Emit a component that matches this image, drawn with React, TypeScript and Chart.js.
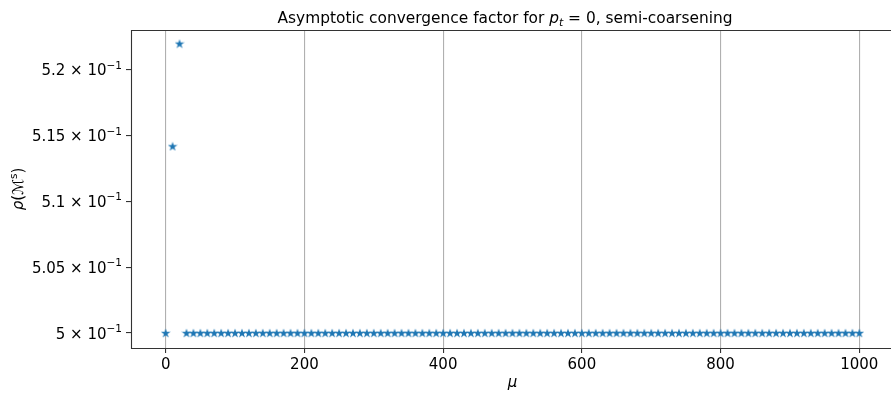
import React, { useEffect, useRef } from "react";
import { Chart, registerables } from "chart.js";

Chart.register(...registerables);

const muValues = [
  0, 10, 20, 30, 40, 50, 60, 70, 80, 90,
  100, 110, 120, 130, 140, 150, 160, 170, 180, 190,
  200, 210, 220, 230, 240, 250, 260, 270, 280, 290,
  300, 310, 320, 330, 340, 350, 360, 370, 380, 390,
  400, 410, 420, 430, 440, 450, 460, 470, 480, 490,
  500, 510, 520, 530, 540, 550, 560, 570, 580, 590,
  600, 610, 620, 630, 640, 650, 660, 670, 680, 690,
  700, 710, 720, 730, 740, 750, 760, 770, 780, 790,
  800, 810, 820, 830, 840, 850, 860, 870, 880, 890,
  900, 910, 920, 930, 940, 950, 960, 970, 980, 990,
  1000,
];

const rhoValues = [
  0.5, 0.5142, 0.522, 0.5, 0.5, 0.5, 0.5, 0.5, 0.5, 0.5,
  0.5, 0.5, 0.5, 0.5, 0.5, 0.5, 0.5, 0.5, 0.5, 0.5,
  0.5, 0.5, 0.5, 0.5, 0.5, 0.5, 0.5, 0.5, 0.5, 0.5,
  0.5, 0.5, 0.5, 0.5, 0.5, 0.5, 0.5, 0.5, 0.5, 0.5,
  0.5, 0.5, 0.5, 0.5, 0.5, 0.5, 0.5, 0.5, 0.5, 0.5,
  0.5, 0.5, 0.5, 0.5, 0.5, 0.5, 0.5, 0.5, 0.5, 0.5,
  0.5, 0.5, 0.5, 0.5, 0.5, 0.5, 0.5, 0.5, 0.5, 0.5,
  0.5, 0.5, 0.5, 0.5, 0.5, 0.5, 0.5, 0.5, 0.5, 0.5,
  0.5, 0.5, 0.5, 0.5, 0.5, 0.5, 0.5, 0.5, 0.5, 0.5,
  0.5, 0.5, 0.5, 0.5, 0.5, 0.5, 0.5, 0.5, 0.5, 0.5,
  0.5,
];

const xTicks = [0, 200, 400, 600, 800, 1000];
const yTicks = [0.5, 0.505, 0.51, 0.515, 0.52];
const yTickMantissas = ["5", "5.05", "5.1", "5.15", "5.2"];
const yTickExponent = "−1";

const FONT = "'DejaVu Sans', sans-serif";
const BLUE = "#1f77b4";

function makeStar(size: number, color: string): HTMLCanvasElement {
  const c = document.createElement("canvas");
  c.width = size;
  c.height = size;
  const ctx = c.getContext("2d")!;
  const cx = size / 2;
  const cy = size / 2 + 0.4;
  const R = size / 2;
  const r = R * 0.382;
  ctx.beginPath();
  for (let i = 0; i < 10; i++) {
    const ang = -Math.PI / 2 + (i * Math.PI) / 5;
    const rad = i % 2 === 0 ? R : r;
    const px = cx + rad * Math.cos(ang);
    const py = cy + rad * Math.sin(ang);
    if (i === 0) ctx.moveTo(px, py);
    else ctx.lineTo(px, py);
  }
  ctx.closePath();
  ctx.fillStyle = color;
  ctx.fill();
  return c;
}

function drawRuns(
  ctx: CanvasRenderingContext2D,
  runs: { t: string; font: string; dy: number }[],
  x: number,
  y: number,
  align: "left" | "center" | "right"
) {
  let total = 0;
  for (const r of runs) {
    ctx.font = r.font;
    total += ctx.measureText(r.t).width;
  }
  let cx = align === "left" ? x : align === "center" ? x - total / 2 : x - total;
  ctx.textAlign = "left";
  for (const r of runs) {
    ctx.font = r.font;
    ctx.fillText(r.t, cx, y + r.dy);
    cx += ctx.measureText(r.t).width;
  }
}

const decorPlugin = {
  id: "decor",
  afterDraw(chart: any) {
    const { ctx, chartArea } = chart;
    const { left, right, top, bottom } = chartArea;
    ctx.save();
    // spines
    ctx.strokeStyle = "#333333";
    ctx.lineWidth = 1.1;
    ctx.beginPath();
    ctx.moveTo(left + 0.5, top + 0.5);
    ctx.lineTo(right, top + 0.5);
    ctx.moveTo(left + 0.5, top);
    ctx.lineTo(left + 0.5, bottom + 0.5);
    ctx.lineTo(right, bottom + 0.5);
    ctx.stroke();

    ctx.fillStyle = "#000";
    ctx.textBaseline = "alphabetic";

    // title
    drawRuns(
      ctx,
      [
        { t: "Asymptotic convergence factor for ", font: `15.4px ${FONT}`, dy: 0 },
        { t: "p", font: `italic 15.4px ${FONT}`, dy: 0 },
        { t: "t", font: `italic 10.8px ${FONT}`, dy: 3 },
        { t: " = 0, semi-coarsening", font: `15.4px ${FONT}`, dy: 0 },
      ],
      505,
      23,
      "center"
    );

    // y tick labels
    const yScale = chart.scales.y;
    yTicks.forEach((v, i) => {
      const py = yScale.getPixelForValue(v);
      drawRuns(
        ctx,
        [
          { t: yTickMantissas[i] + " × 10", font: `15px ${FONT}`, dy: 0 },
          { t: yTickExponent, font: `10.5px ${FONT}`, dy: -6.5 },
        ],
        122,
        py + 5.5,
        "right"
      );
    });

    // x label
    drawRuns(ctx, [{ t: "μ", font: `italic 15px ${FONT}`, dy: 0 }], (left + right) / 2, 387, "center");

    // y label
    ctx.translate(23, (top + bottom) / 2);
    ctx.rotate(-Math.PI / 2);
    drawRuns(
      ctx,
      [
        { t: "ρ", font: `italic 15px ${FONT}`, dy: 0 },
        { t: "(", font: `15px ${FONT}`, dy: 0 },
        { t: "ℳ", font: `italic 15px ${FONT}`, dy: 0 },
        { t: "s", font: `10.5px ${FONT}`, dy: -6 },
        { t: ")", font: `15px ${FONT}`, dy: 0 },
      ],
      0,
      0,
      "center"
    );
    ctx.restore();
  },
};

export default function App() {
  const canvasRef = useRef<HTMLCanvasElement | null>(null);

  useEffect(() => {
    const canvas = canvasRef.current;
    if (!canvas) return;
    const star = makeStar(10, BLUE);
    const points = muValues.map((m, i) => ({ x: m, y: rhoValues[i] }));
    const chart = new Chart(canvas, {
      type: "scatter",
      data: {
        datasets: [
          {
            data: points,
            pointStyle: star as any,
            pointRadius: 5,
            pointHoverRadius: 5,
            backgroundColor: BLUE,
            borderColor: BLUE,
            showLine: false,
          },
        ],
      },
      options: {
        responsive: false,
        animation: false,
        events: [],
        layout: { padding: { top: 30, right: 6, left: 0, bottom: 0 } },
        plugins: {
          legend: { display: false },
          tooltip: { enabled: false },
          title: { display: false },
        },
        scales: {
          x: {
            type: "linear",
            min: -50,
            max: 1050,
            afterBuildTicks: (scale: any) => {
              scale.ticks = xTicks.map((v) => ({ value: v }));
            },
            afterFit: (scale: any) => {
              scale.height = 47;
            },
            border: { display: false },
            grid: {
              display: true,
              drawOnChartArea: true,
              drawTicks: true,
              tickLength: 5,
              color: "#b0b0b0",
              tickColor: "#333333",
              lineWidth: 1.1,
            },
            ticks: {
              color: "#000",
              font: { family: FONT, size: 15 },
              padding: 3,
              maxRotation: 0,
              autoSkip: false,
              callback: (v: any) => String(v),
            },
          },
          y: {
            type: "linear",
            min: 0.49886,
            max: 0.52304,
            afterBuildTicks: (scale: any) => {
              scale.ticks = yTicks.map((v) => ({ value: v }));
            },
            afterFit: (scale: any) => {
              scale.width = 131;
            },
            border: { display: false },
            grid: {
              display: true,
              drawOnChartArea: false,
              drawTicks: true,
              tickLength: 5,
              tickColor: "#333333",
              lineWidth: 1.1,
            },
            ticks: {
              display: false,
              autoSkip: false,
            },
          },
        },
      },
      plugins: [decorPlugin],
    });
    return () => chart.destroy();
  }, []);

  return (
    <div
      style={{
        position: "fixed",
        left: 0,
        top: 0,
        width: 891,
        height: 395,
        overflow: "hidden",
        background: "#fff",
      }}
    >
      <canvas ref={canvasRef} width={900} height={395} style={{ display: "block" }} />
    </div>
  );
}
